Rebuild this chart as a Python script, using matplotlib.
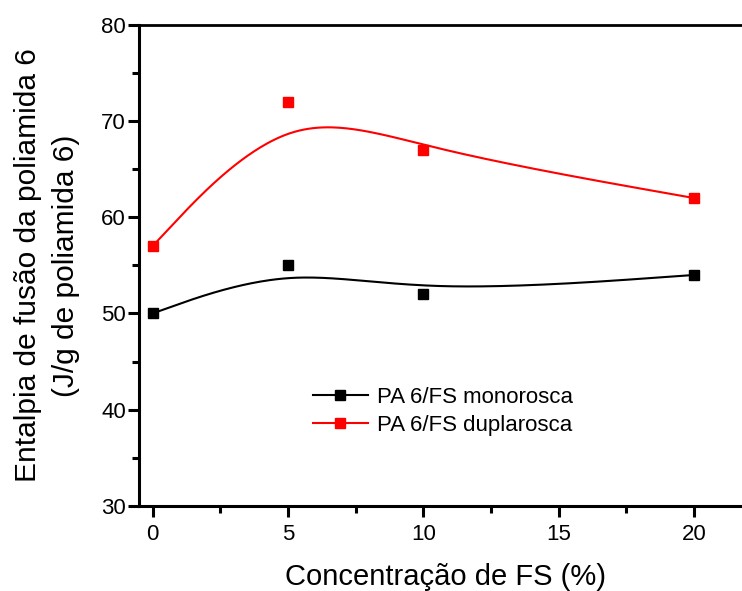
import numpy as np
import matplotlib.pyplot as plt
from matplotlib.lines import Line2D
from matplotlib.ticker import MultipleLocator

plt.rcParams['font.family'] = ['Liberation Sans', 'DejaVu Sans']

conc = [0, 5, 10, 20]
mono = [50, 55, 52, 54]
dupla = [57, 72, 67, 62]
names = ['PA 6/FS monorosca', 'PA 6/FS duplarosca']
colors = ['black', 'red']


def bspline(x, y, n=60):
    # uniform cubic B-spline, end points repeated so the curve starts/ends on them
    P = np.column_stack([x, y]).astype(float)
    P = np.vstack([P[:1], P[:1], P, P[-1:], P[-1:]])
    u = np.linspace(0, 1, n)[:, None]
    b = [(1 - u)**3 / 6, (3 * u**3 - 6 * u**2 + 4) / 6,
         (-3 * u**3 + 3 * u**2 + 3 * u + 1) / 6, u**3 / 6]
    segs = [b[0] * P[i] + b[1] * P[i + 1] + b[2] * P[i + 2] + b[3] * P[i + 3]
            for i in range(len(P) - 3)]
    pts = np.vstack(segs)
    return pts[:, 0], pts[:, 1]


fig = plt.figure(figsize=(7.42, 5.91), dpi=100)
ax = fig.add_axes([0.1873, 0.1443, 0.8127, 0.8134])

handles = []
for ys, c, lab in zip([mono, dupla], colors, names):
    sx, sy = bspline(conc, ys)
    ax.plot(sx, sy, color=c, lw=1.5, clip_on=False)
    ax.plot(conc, ys, ls='none', marker='s', ms=6.5, color=c, clip_on=False)
    handles.append(Line2D([], [], color=c, lw=1.5, marker='s', ms=6.5, label=lab))

ax.set_xlim(-0.5, 21.77)
ax.set_ylim(30, 80)
ax.xaxis.set_major_locator(MultipleLocator(5))
ax.xaxis.set_minor_locator(MultipleLocator(2.5))
ax.yaxis.set_major_locator(MultipleLocator(10))
ax.yaxis.set_minor_locator(MultipleLocator(5))
ax.tick_params(which='major', direction='out', length=8, width=2.2, labelsize=16, pad=5)
ax.tick_params(axis='y', which='major', pad=1.5)
ax.tick_params(which='minor', direction='out', length=5, width=2.2)
ax.spines['right'].set_visible(False)
for s in ['left', 'bottom']:
    ax.spines[s].set_linewidth(2.2)
ax.spines['top'].set_linewidth(2.0)

ax.set_xlabel('Concentração de FS (%)', fontsize=21, labelpad=13, x=0.508)
ax.set_ylabel('Entalpia de fusão da poliamida 6\n(J/g de poliamida 6)', fontsize=21.5,
              labelpad=15, linespacing=1.45)

ax.legend(handles=handles, loc='upper left', bbox_to_anchor=(0.288, 0.247), frameon=False,
          fontsize=16, handlelength=2.5, handletextpad=0.4, labelspacing=0.32,
          borderpad=0, borderaxespad=0)

fig.savefig('out.png', dpi=100)
